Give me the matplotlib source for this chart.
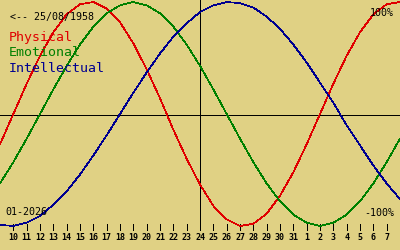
import matplotlib
matplotlib.use("Agg")
import matplotlib.pyplot as plt

# Day-of-month labels, from 10 Dec 2025 to 7 Jan 2026
day_labels = [10, 11, 12, 13, 14, 15, 16, 17, 18, 19, 20, 21, 22, 23, 24, 25,
              26, 27, 28, 29, 30, 31, 1, 2, 3, 4, 5, 6, 7]
# Day positions for the curves (one extra day each side, -1 .. 29)
days = list(range(-1, 30))

# Values (%), one per day
physical = [-27, 0, 27, 52, 73, 89, 98, 100, 94, 82, 63, 40, 14, -14, -40, -63,
            -82, -94, -100, -98, -89, -73, -52, -27, 0, 27, 52, 73, 89, 98, 100]
emotional = [-62, -43, -22, 0, 22, 43, 62, 78, 90, 97, 100, 97, 90, 78, 62, 43,
             22, 0, -22, -43, -62, -78, -90, -97, -100, -97, -90, -78, -62, -43, -22]
intellectual = [-99, -100, -97, -91, -81, -69, -54, -37, -19, 0, 19, 37, 54, 69, 81,
                91, 97, 100, 99, 95, 87, 76, 62, 46, 28, 10, -10, -28, -46, -62, -76]

series_names = ["Physical", "Emotional", "Intellectual"]
series_colors = ["#e00000", "#008000", "#000090"]
birth_text = "<-- 25/08/1958"
month_text = "01-2026"
today_index = 14

W, H = 400, 250
BG = "#e0d184"
CENTER, AMP = 114.0, 1.12  # pixel centre and pixels per percent

fig = plt.figure(figsize=(W / 100, H / 100), dpi=100, facecolor=BG)
ax = fig.add_axes([0, 0, 1, 1], facecolor=BG)
ax.set_xlim(-1, 29)
ax.set_ylim((CENTER - H) / AMP, CENTER / AMP)
ax.axis("off")

lw = 0.5
for vals, col in zip([physical, emotional, intellectual], series_colors):
    ax.plot(days, vals, color=col, lw=lw, antialiased=False, zorder=3)

# axes
ax.axhline(-1, color="black", lw=lw, antialiased=False, zorder=2)
xt = ax.get_xaxis_transform()
ax.vlines([today_index], 1 - 230 / H, 1, color="black", lw=lw, transform=xt,
          antialiased=False, zorder=2)

# ticks and labels
tick_pos = list(range(len(day_labels)))
ax.vlines(tick_pos, 1 - 230 / H, 1 - 224 / H, color="black", lw=lw,
          transform=xt, antialiased=False)
for p, lab in zip(tick_pos, day_labels):
    ax.text(p, 1 - 237 / H, str(lab), transform=xt, ha="center", va="center",
            fontsize=6, fontweight="bold", family="DejaVu Sans Mono", color="black")

def px(x, y):
    return x / W, 1 - y / H

small = dict(family="DejaVu Sans Mono", fontsize=7.2, color="black")
fig.text(*px(10, 17), birth_text, ha="left", va="center", **small)
fig.text(*px(394, 12.5), "100%", ha="right", va="center", **small)
fig.text(*px(394, 212.5), "-100%", ha="right", va="center", **small)
fig.text(*px(5, 212), month_text, ha="left", va="center", **small)

for k, (name, col) in enumerate(zip(series_names, series_colors)):
    fig.text(*px(9, 38 + 15 * k), name, ha="left", va="center",
             family="DejaVu Sans Mono", fontsize=9.5, color=col)

fig.savefig("out.png", dpi=100, facecolor=BG)
